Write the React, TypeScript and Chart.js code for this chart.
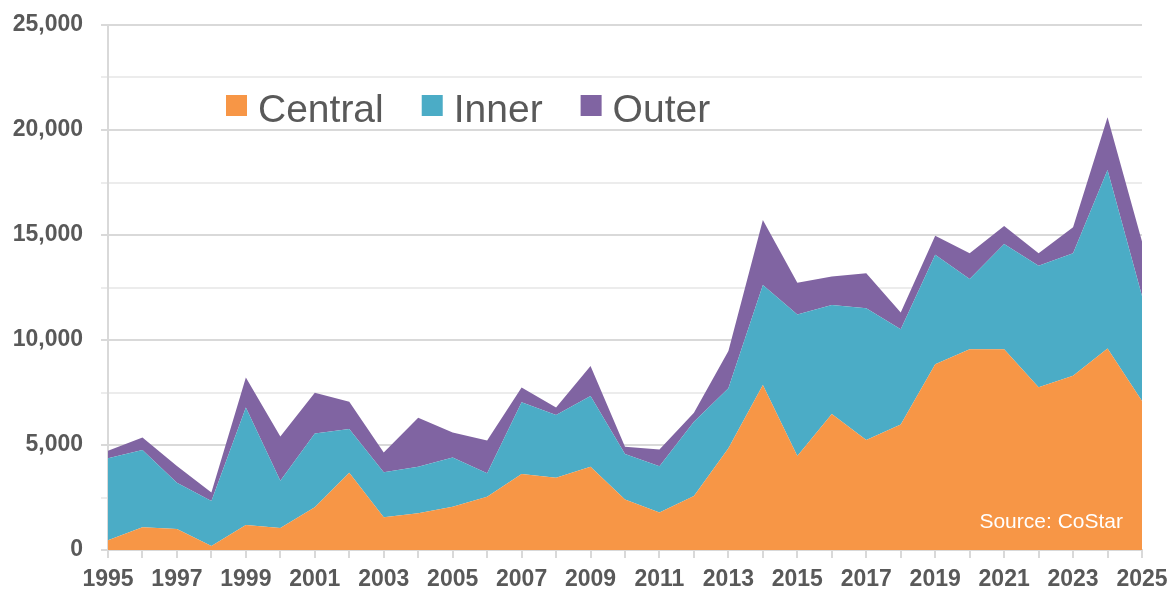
import React, { useEffect, useRef } from "react";
import { Chart, registerables } from "chart.js";

Chart.register(...registerables);

const years = [
  "1995", "1996", "1997", "1998", "1999", "2000", "2001", "2002", "2003", "2004",
  "2005", "2006", "2007", "2008", "2009", "2010", "2011", "2012", "2013", "2014",
  "2015", "2016", "2017", "2018", "2019", "2020", "2021", "2022", "2023", "2024", "2025",
];

const central = [
  470, 1080, 1000, 190, 1190, 1050, 2030, 3680, 1560, 1750,
  2060, 2540, 3620, 3440, 3970, 2410, 1790, 2570, 4840, 7860,
  4480, 6480, 5240, 5980, 8850, 9560, 9560, 7750, 8300, 9600, 7100,
];

const inner = [
  3895, 3680, 2200, 2140, 5590, 2250, 3520, 2080, 2140, 2220,
  2340, 1110, 3410, 2990, 3360, 2160, 2200, 3540, 2860, 4760,
  6740, 5190, 6270, 4530, 5210, 3350, 5010, 5790, 5830, 8500, 5000,
];

const outer = [
  365, 600, 800, 410, 1430, 2100, 1940, 1300, 940, 2330,
  1200, 1560, 710, 360, 1430, 350, 790, 430, 1780, 3100,
  1510, 1350, 1670, 800, 900, 1220, 860, 590, 1240, 2510, 2590,
];

const seriesNames = ["Central", "Inner", "Outer"];
const seriesColors = ["#F79646", "#4BACC6", "#8064A2"];
const sourceNote = "Source: CoStar";

const FONT = "'Liberation Sans', Arial, sans-serif";

const overlayPlugin = {
  id: "overlay",
  afterDraw(chart: any) {
    const ctx = chart.ctx;
    const area = chart.chartArea;
    ctx.save();
    // Legend
    ctx.font = `39px ${FONT}`;
    ctx.textBaseline = "alphabetic";
    ctx.textAlign = "left";
    let x = area.left + 118;
    const boxTop = 95;
    const box = 21;
    chart.data.datasets.forEach((ds: any) => {
      ctx.fillStyle = ds.backgroundColor;
      ctx.fillRect(x, boxTop, box, box);
      x += box + 11;
      ctx.fillStyle = "#595959";
      ctx.fillText(ds.label, x, 122);
      x += ctx.measureText(ds.label).width + 38;
    });
    // Source note
    ctx.font = `21px ${FONT}`;
    ctx.fillStyle = "#ffffff";
    ctx.textAlign = "right";
    ctx.fillText(sourceNote, area.right - 19, 528);
    ctx.restore();
  },
};

export default function App() {
  const ref = useRef<HTMLCanvasElement | null>(null);

  useEffect(() => {
    if (!ref.current) return;
    const chart = new Chart(ref.current, {
      type: "line",
      data: {
        labels: years,
        datasets: [
          { label: seriesNames[0], data: central, backgroundColor: seriesColors[0], borderColor: seriesColors[0], fill: "origin" },
          { label: seriesNames[1], data: inner, backgroundColor: seriesColors[1], borderColor: seriesColors[1], fill: "-1" },
          { label: seriesNames[2], data: outer, backgroundColor: seriesColors[2], borderColor: seriesColors[2], fill: "-1" },
        ] as any,
      },
      options: {
        animation: false,
        responsive: true,
        maintainAspectRatio: false,
        elements: {
          point: { radius: 0, hoverRadius: 0 },
          line: { borderWidth: 0, tension: 0 },
        },
        layout: { padding: { top: 25, right: 27, left: 0, bottom: 0 } },
        plugins: {
          legend: { display: false },
          tooltip: { enabled: false },
        },
        scales: {
          x: {
            type: "category",
            offset: false,
            grid: {
              drawOnChartArea: false,
              drawTicks: true,
              tickLength: 8,
              color: "#d9d9d9",
              lineWidth: 2,
            },
            border: { display: true, color: "#d9d9d9", width: 2 },
            ticks: {
              autoSkip: false,
              maxRotation: 0,
              minRotation: 0,
              padding: 8,
              color: "#595959",
              font: { family: FONT, size: 23, weight: "bold" },
              callback: (_v: any, i: number) => (i % 2 === 0 ? years[i] : ""),
            },
            afterFit: (scale: any) => {
              scale.height = 41;
              scale.paddingLeft = 0;
              scale.paddingRight = 0;
            },
          },
          y: {
            stacked: true,
            min: 0,
            max: 25000,
            grid: {
              drawTicks: true,
              tickLength: 7,
              color: (c: any) => (c.tick && c.tick.value % 5000 === 0 ? "#d9d9d9" : "#ececec"),
              lineWidth: 2,
            },
            border: { display: true, color: "#d9d9d9", width: 2 },
            ticks: {
              stepSize: 2500,
              padding: 18,
              color: "#595959",
              font: { family: FONT, size: 23, weight: "bold" },
              callback: (v: any) => (Number(v) % 5000 === 0 ? Number(v).toLocaleString("en-US") : ""),
            },
            afterFit: (scale: any) => {
              scale.width = 108;
              scale.paddingTop = 0;
              scale.paddingBottom = 0;
            },
          },
        },
      },
      plugins: [overlayPlugin],
    });
    return () => chart.destroy();
  }, []);

  return (
    <div style={{ position: "absolute", left: 0, top: 0, width: 1169, height: 591, background: "#fff" }}>
      <canvas ref={ref} />
    </div>
  );
}
